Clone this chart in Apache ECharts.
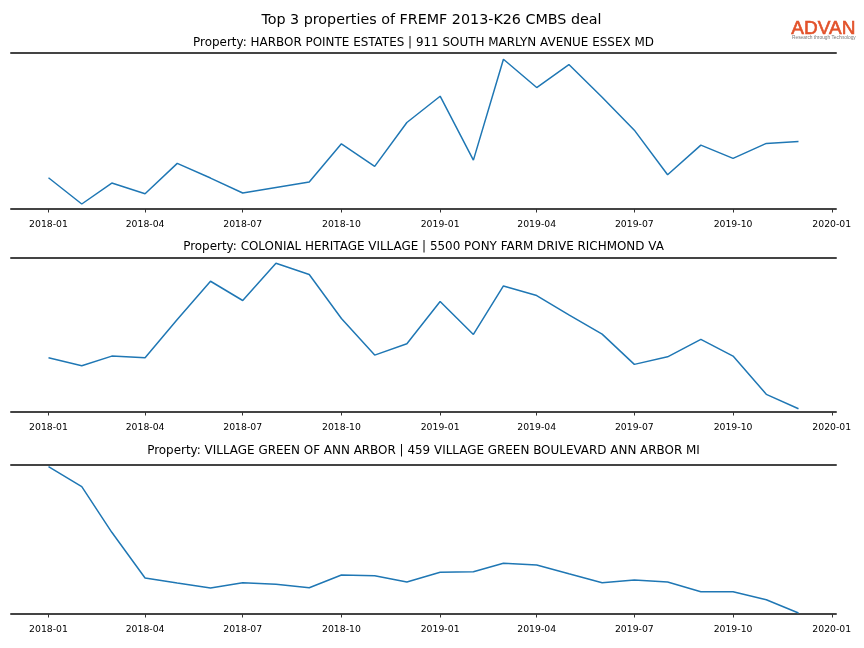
<!DOCTYPE html>
<html><head><meta charset="utf-8">
<script src="https://cdn.jsdelivr.net/npm/echarts@6/dist/echarts.min.js"></script>
<style>html,body{margin:0;padding:0;background:#fff}#c{width:864px;height:648px}</style>
</head><body><div id="c"></div>
<script>
// Monthly periods (2018-01 .. 2019-12)
var months = ['2018-01','2018-02','2018-03','2018-04','2018-05','2018-06','2018-07','2018-08','2018-09','2018-10','2018-11','2018-12',
              '2019-01','2019-02','2019-03','2019-04','2019-05','2019-06','2019-07','2019-08','2019-09','2019-10','2019-11','2019-12'];
var tickLabels = ['2018-01','2018-04','2018-07','2018-10','2019-01','2019-04','2019-07','2019-10','2020-01'];

var mainTitle = 'Top 3 properties of FREMF 2013-K26 CMBS deal';
var propertyTitles = [
  'Property: HARBOR POINTE ESTATES | 911 SOUTH MARLYN AVENUE ESSEX MD',
  'Property: COLONIAL HERITAGE VILLAGE | 5500 PONY FARM DRIVE RICHMOND VA',
  'Property: VILLAGE GREEN OF ANN ARBOR | 459 VILLAGE GREEN BOULEVARD ANN ARBOR MI'
];
// values (relative units)
var harborPointe = [31.3,5,26,15.3,45.7,31,16,21.5,27,65.3,42.7,86.7,113,49,150,121.7,144.7,112,79,34.3,64,50.7,65.7,67.7];
var colonialHeritage = [54.3,46.3,56,54.3,92.7,131,111.7,149,137.7,93.7,57,68.3,110.7,77.7,126.3,116.7,97.3,78,47.7,55.3,72.7,56,17.7,3.3];
var villageGreen = [147.3,127.3,81.7,36,31,26,31.3,29.7,26.3,39,38.3,32,41.7,42.3,50.7,49,40.2,31.3,34,32,22.3,22.3,14.3,1];
var seriesList = [harborPointe, colonialHeritage, villageGreen];
var yMax = [156.3, 154.3, 149];

function ts(s){ var p = s.split('-'); return Date.UTC(+p[0], +p[1]-1, 1); }
var tickValues = tickLabels.map(ts);
var t0 = ts(months[0]), t1 = ts(months[months.length-1]);
var pad = (t1 - t0) * 0.05;
var xMin = t0 - pad, xMax = t1 + pad;

var grids = [
  {left: 11, right: 28, top: 53, height: 156},
  {left: 11, right: 28, top: 258, height: 154},
  {left: 11, right: 28, top: 465, height: 149}
];
var subTitleY = [32, 236, 440];

function fmt(v) {
  var k = -1;
  for (var j = 0; j < tickValues.length; j++) if (Math.abs(tickValues[j] - v) < 1000) k = j;
  return k < 0 ? '' : tickLabels[k];
}

var titles = [{
  text: mainTitle, left: 426.5, top: 8, textAlign: 'center',
  textStyle: {fontFamily: 'DejaVu Sans', fontSize: 14.3, fontWeight: 'normal', color: '#000'}
}];
var xAxes = [], yAxes = [], series = [];
for (var i = 0; i < 3; i++) {
  titles.push({
    text: propertyTitles[i], left: 418.5, top: subTitleY[i], textAlign: 'center',
    textStyle: {fontFamily: 'DejaVu Sans', fontSize: 11.95, fontWeight: 'normal', color: '#000'}
  });
  xAxes.push({
    type: 'value', gridIndex: i, min: xMin, max: xMax, position: 'bottom', scale: true,
    axisLine: {show: true, onZero: false, lineStyle: {color: '#444', width: 2}},
    axisTick: {show: true, length: 3.5, lineStyle: {color: '#333', width: 1}, customValues: tickValues},
    axisLabel: {show: true, customValues: tickValues, margin: 11.5, color: '#000', fontFamily: 'DejaVu Sans', fontSize: 9.3,
      showMinLabel: true, showMaxLabel: true, hideOverlap: false, formatter: fmt},
    splitLine: {show: false}
  });
  xAxes.push({
    type: 'value', gridIndex: i, min: xMin, max: xMax, position: 'top', scale: true,
    axisLine: {show: true, onZero: false, lineStyle: {color: '#444', width: 2}},
    axisTick: {show: false}, axisLabel: {show: false}, splitLine: {show: false}
  });
  yAxes.push({
    type: 'value', gridIndex: i, min: 0, max: yMax[i],
    axisLine: {show: false}, axisTick: {show: false}, axisLabel: {show: false}, splitLine: {show: false}
  });
  series.push({
    type: 'line', xAxisIndex: i * 2, yAxisIndex: i,
    data: months.map(function (m, k) { return [ts(m), seriesList[i][k]]; }),
    showSymbol: false, symbol: 'none', silent: true, animation: false,
    lineStyle: {color: '#1f77b4', width: 1.5}, itemStyle: {color: '#1f77b4'}
  });
}

var chart = echarts.init(document.getElementById('c'), null, {renderer: 'canvas'});
chart.setOption({
  animation: false,
  backgroundColor: '#fff',
  title: titles,
  grid: grids,
  xAxis: xAxes,
  yAxis: yAxes,
  series: series,
  graphic: [
    {type: 'text', left: 791, top: 18.5, style: {text: 'ADVAN', fill: '#e2522b', stroke: '#e2522b', lineWidth: 0.6, fontFamily: 'Liberation Sans', fontWeight: 'normal', fontSize: 19}},
    {type: 'text', left: 792, top: 35.5, style: {text: 'Research through Technology', fill: '#777', fontFamily: 'Liberation Sans', fontSize: 4.8}}
  ]
});
</script></body></html>
